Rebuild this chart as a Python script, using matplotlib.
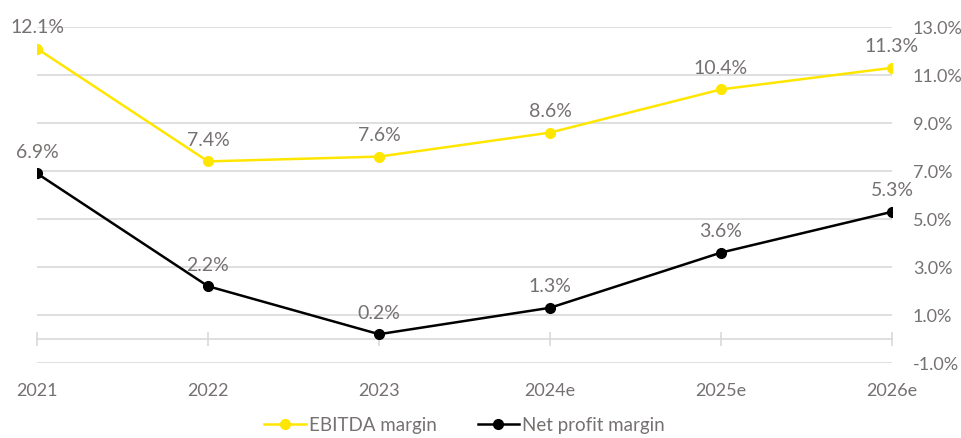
import matplotlib.pyplot as plt
from matplotlib.ticker import FixedLocator, FuncFormatter

plt.rcParams['font.family'] = ['Lato', 'DejaVu Sans']

# données
years = ["2021", "2022", "2023", "2024e", "2025e", "2026e"]
ebitda_margin = [12.1, 7.4, 7.6, 8.6, 10.4, 11.3]
net_margin = [6.9, 2.2, 0.2, 1.3, 3.6, 5.3]
y_ticks = [-1, 1, 3, 5, 7, 9, 11, 13]

yellow = "#FFE600"
grey_txt = "#767171"
grid_col = "#D9D9D9"

fig = plt.figure(figsize=(9.62, 4.38), dpi=100)
ax = fig.add_axes([37 / 962, 75 / 438, 855 / 962, 336 / 438])

x = range(len(years))
ax.plot(x, ebitda_margin, color=yellow, lw=1.8, marker="o", ms=7,
        label="EBITDA margin", zorder=3)
ax.plot(x, net_margin, color="black", lw=1.8, marker="o", ms=7,
        label="Net profit margin", zorder=3)

# étiquettes de valeurs au-dessus des points
for xi, v in zip(x, ebitda_margin):
    ax.annotate(f"{v:.1f}%", (xi, v), xytext=(0, 9), textcoords="offset points",
                ha="center", va="bottom", fontsize=14, color=grey_txt)
for xi, v in zip(x, net_margin):
    ax.annotate(f"{v:.1f}%", (xi, v), xytext=(0, 9), textcoords="offset points",
                ha="center", va="bottom", fontsize=14, color=grey_txt)

ax.set_xlim(0, len(years) - 1)
ax.set_ylim(-1, 13)

# axe des ordonnées à droite
ax.yaxis.tick_right()
ax.yaxis.set_major_locator(FixedLocator(y_ticks))
ax.yaxis.set_major_formatter(FuncFormatter(lambda v, p: f"{v:.1f}%"))
ax.tick_params(axis="y", length=0, pad=15, labelsize=13, labelcolor=grey_txt)
ax.grid(axis="y", color=grid_col, lw=1.2)
ax.set_axisbelow(True)

# axe des abscisses placé à 0 %
for s in ["top", "right", "left"]:
    ax.spines[s].set_visible(False)
ax.spines["bottom"].set_position(("data", 0))
ax.spines["bottom"].set_color(grid_col)
ax.spines["bottom"].set_linewidth(1.2)
ax.set_xticks(list(x))
ax.set_xticklabels(years)
ax.tick_params(axis="x", direction="inout", length=10, width=1.2, color=grid_col,
               pad=27, labelsize=13, labelcolor=grey_txt)

leg = ax.legend(loc="upper center", bbox_to_anchor=(0.5, -0.11), ncol=2,
                frameon=False, fontsize=13.5, handlelength=2.2, handletextpad=0.15,
                columnspacing=2.2)
for t in leg.get_texts():
    t.set_color(grey_txt)

plt.savefig("out.png", dpi=100)
